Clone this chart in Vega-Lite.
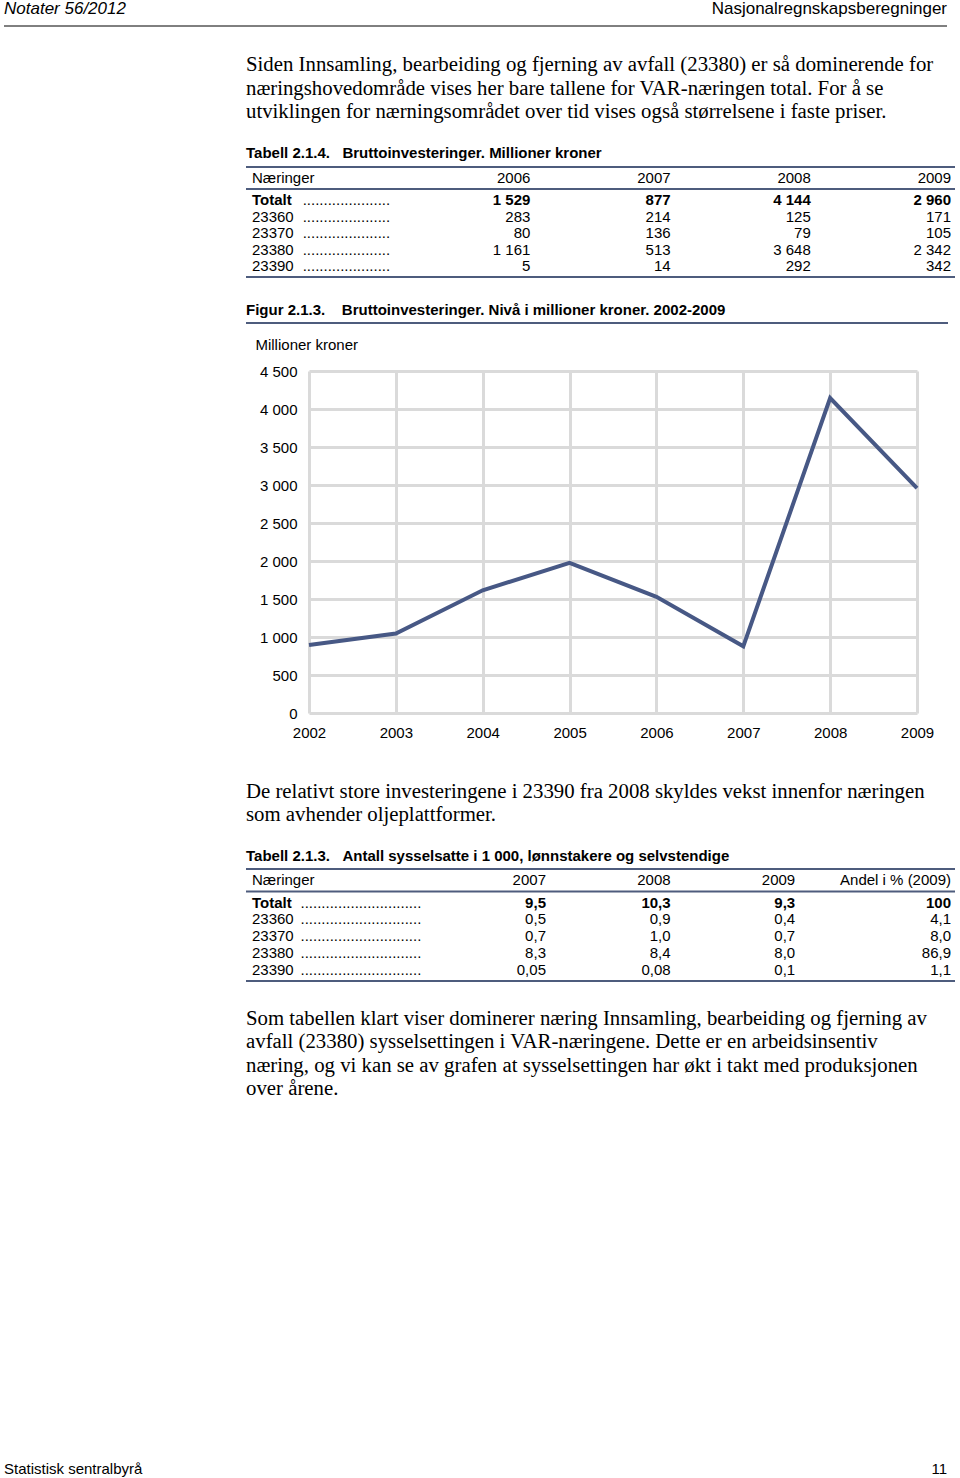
{
  "$schema": "https://vega.github.io/schema/vega-lite/v6.json",
  "background": "white",
  "padding": {"left": 3, "top": 0, "right": 0, "bottom": 0},
  "spacing": 0,
  "config": {
    "view": {"stroke": null},
    "font": "Liberation Sans",
    "text": {"font": "Liberation Sans", "fontSize": 15, "color": "black"}
  },
  "vconcat": [
    {
      "width": 943,
      "height": 25,
      "layer": [
        {
          "data": {"values": [{"t": "Notater 56/2012"}]},
          "mark": {"type": "text", "align": "left", "baseline": "top", "fontSize": 17, "fontStyle": "italic"},
          "encoding": {
            "text": {"field": "t"},
            "x": {"datum": 0, "type": "quantitative", "scale": {"domain": [0, 1]}, "axis": null},
            "y": {"datum": 1, "type": "quantitative", "scale": {"domain": [0, 1]}, "axis": null}
          }
        },
        {
          "data": {"values": [{"t": "Nasjonalregnskapsberegninger"}]},
          "mark": {"type": "text", "align": "right", "baseline": "top", "fontSize": 17},
          "encoding": {
            "text": {"field": "t"},
            "x": {"datum": 1, "type": "quantitative", "scale": {"domain": [0, 1]}, "axis": null},
            "y": {"datum": 1, "type": "quantitative", "scale": {"domain": [0, 1]}, "axis": null}
          }
        },
        {
          "data": {"values": [{}]},
          "mark": {"type": "rule", "color": "black", "strokeWidth": 1},
          "encoding": {"y": {"datum": 0, "type": "quantitative", "scale": {"domain": [0, 1]}, "axis": null}}
        }
      ]
    },
    {"width": 10, "height": 27, "data": {"values": []}, "mark": "text"},
    {
      "spacing": 0,
      "hconcat": [
        {"width": 241, "height": 1, "data": {"values": []}, "mark": "text"},
        {
          "spacing": 0,
          "vconcat": [
            {
              "width": 709,
              "height": 110,
              "title": {
                "text": [
                  "Siden Innsamling, bearbeiding og fjerning av avfall (23380) er så dominerende for",
                  "næringshovedområde vises her bare tallene for VAR-næringen total. For å se",
                  "utviklingen for nærningsområdet over tid vises også størrelsene i faste priser."
                ],
                "subtitle": "Tabell 2.1.4.\u00a0\u00a0\u00a0Bruttoinvesteringer. Millioner kroner",
                "anchor": "start", "frame": "group",
                "font": "Liberation Serif", "fontSize": 20.8, "fontWeight": "normal", "color": "black", "lineHeight": 23.5,
                "subtitleFont": "Liberation Sans", "subtitleFontSize": 15, "subtitleFontWeight": "bold", "subtitleColor": "black",
                "subtitlePadding": 23, "offset": 4
              },
              "data": {"values": [
                {"row": "hdr", "col": "lab", "v": "Næringer"},
                {"row": "hdr", "col": "2006", "v": "2006"},
                {"row": "hdr", "col": "2007", "v": "2007"},
                {"row": "hdr", "col": "2008", "v": "2008"},
                {"row": "hdr", "col": "2009", "v": "2009"},
                {"row": "Totalt", "col": "lab", "v": "Totalt"},
                {"row": "Totalt", "col": "2006", "v": "1 529"},
                {"row": "Totalt", "col": "2007", "v": "877"},
                {"row": "Totalt", "col": "2008", "v": "4 144"},
                {"row": "Totalt", "col": "2009", "v": "2 960"},
                {"row": "23360", "col": "lab", "v": "23360"},
                {"row": "23360", "col": "2006", "v": "283"},
                {"row": "23360", "col": "2007", "v": "214"},
                {"row": "23360", "col": "2008", "v": "125"},
                {"row": "23360", "col": "2009", "v": "171"},
                {"row": "23370", "col": "lab", "v": "23370"},
                {"row": "23370", "col": "2006", "v": "80"},
                {"row": "23370", "col": "2007", "v": "136"},
                {"row": "23370", "col": "2008", "v": "79"},
                {"row": "23370", "col": "2009", "v": "105"},
                {"row": "23380", "col": "lab", "v": "23380"},
                {"row": "23380", "col": "2006", "v": "1 161"},
                {"row": "23380", "col": "2007", "v": "513"},
                {"row": "23380", "col": "2008", "v": "3 648"},
                {"row": "23380", "col": "2009", "v": "2 342"},
                {"row": "23390", "col": "lab", "v": "23390"},
                {"row": "23390", "col": "2006", "v": "5"},
                {"row": "23390", "col": "2007", "v": "14"},
                {"row": "23390", "col": "2008", "v": "292"},
                {"row": "23390", "col": "2009", "v": "342"}
              ]},
              "encoding": {
                "y": {"field": "row", "type": "nominal", "axis": null,
                  "scale": {"type": "point", "padding": 0, "domain": ["top", "y1", "hdr", "y3", "hrule", "y5", "Totalt", "y7", "y8", "23360", "y10", "y11", "23370", "y13", "y14", "23380", "y16", "y17", "23390", "y19", "bot"]}}
              },
              "layer": [
                {
                  "data": {"values": [{"row": "top"}, {"row": "hrule"}, {"row": "bot"}]},
                  "mark": {"type": "rule", "color": "#4e5c7d", "strokeWidth": 2}
                },
                {
                  "transform": [{"filter": "datum.col === 'lab'"}],
                  "mark": {"type": "text", "align": "left", "dx": 2, "fontWeight": {"expr": "datum.row === 'Totalt' ? 'bold' : 'normal'"}},
                  "encoding": {
                    "x": {"field": "col", "type": "nominal", "axis": null, "scale": {"type": "point", "padding": 0.0285, "domain": ["lab", "dots", "2006", "2007", "2008", "2009"]}},
                    "text": {"field": "v"}
                  }
                },
                {
                  "transform": [{"filter": "datum.col !== 'lab'"}],
                  "mark": {"type": "text", "align": "right", "fontWeight": {"expr": "datum.row === 'Totalt' ? 'bold' : 'normal'"}},
                  "encoding": {
                    "x": {"field": "col", "type": "nominal", "axis": null, "scale": {"type": "point", "padding": 0.0285, "domain": ["lab", "dots", "2006", "2007", "2008", "2009"]}},
                    "text": {"field": "v"}
                  }
                },
                {
                  "transform": [{"filter": "datum.col === 'lab' && datum.row !== 'hdr'"}],
                  "mark": {"type": "text", "align": "right", "text": "....................."},
                  "encoding": {
                    "x": {"datum": "dots", "type": "nominal", "axis": null, "scale": {"type": "point", "padding": 0.0285, "domain": ["lab", "dots", "2006", "2007", "2008", "2009"]}}
                  }
                }
              ]
            },
            {"width": 10, "height": 25, "data": {"values": []}, "mark": "text"},
            {
              "width": 702,
              "height": 1,
              "title": {
                "text": "Figur 2.1.3.\u00a0\u00a0\u00a0\u00a0Bruttoinvesteringer. Nivå i millioner kroner. 2002-2009",
                "anchor": "start", "frame": "group",
                "font": "Liberation Sans", "fontSize": 15, "fontWeight": "bold", "color": "black", "offset": 4
              },
              "data": {"values": [{}]},
              "mark": {"type": "rule", "color": "#4e5c7d", "strokeWidth": 2},
              "encoding": {"y": {"datum": 0, "type": "quantitative", "scale": {"domain": [0, 1]}, "axis": null}}
            }
          ]
        }
      ]
    },
    {"width": 10, "height": 14, "data": {"values": []}, "mark": "text"},
    {
      "spacing": 0,
      "hconcat": [
        {"width": 251, "height": 1, "data": {"values": []}, "mark": "text"},
        {
          "width": 608,
          "height": 342,
          "title": {
            "text": "Millioner kroner", "anchor": "start", "frame": "bounds",
            "font": "Liberation Sans", "fontSize": 15, "fontWeight": "normal", "color": "black", "offset": 11, "dx": -4
          },
          "data": {"values": [
            {"year": "2002", "value": 895},
            {"year": "2003", "value": 1045},
            {"year": "2004", "value": 1615},
            {"year": "2005", "value": 1975},
            {"year": "2006", "value": 1529},
            {"year": "2007", "value": 877},
            {"year": "2008", "value": 4144},
            {"year": "2009", "value": 2960}
          ]},
          "mark": {"type": "line", "color": "#475885", "strokeWidth": 4, "strokeJoin": "miter"},
          "encoding": {
            "x": {"field": "year", "type": "ordinal", "scale": {"type": "point", "padding": 0},
              "axis": {"title": null, "labelAngle": 0, "labelFont": "Liberation Sans", "labelFontSize": 15, "labelColor": "black",
                "labelPadding": 12, "ticks": false, "domain": false, "grid": true, "gridColor": "#dadada", "gridWidth": 3}},
            "y": {"field": "value", "type": "quantitative", "scale": {"domain": [0, 4500], "nice": false},
              "axis": {"title": null, "values": [0, 500, 1000, 1500, 2000, 2500, 3000, 3500, 4000, 4500],
                "labelExpr": "replace(format(datum.value, ','), ',', ' ')",
                "labelFont": "Liberation Sans", "labelFontSize": 15, "labelColor": "black", "labelPadding": 12,
                "ticks": false, "domain": false, "grid": true, "gridColor": "#dadada", "gridWidth": 3}}
          }
        }
      ]
    },
    {"width": 10, "height": 40, "data": {"values": []}, "mark": "text"},
    {
      "spacing": 0,
      "hconcat": [
        {"width": 241, "height": 1, "data": {"values": []}, "mark": "text"},
        {
          "spacing": 0,
          "vconcat": [
            {
              "width": 709,
              "height": 112,
              "title": {
                "text": [
                  "De relativt store investeringene i 23390 fra 2008 skyldes vekst innenfor næringen",
                  "som avhender oljeplattformer."
                ],
                "subtitle": "Tabell 2.1.3.\u00a0\u00a0\u00a0Antall sysselsatte i 1 000, lønnstakere og selvstendige",
                "anchor": "start", "frame": "group",
                "font": "Liberation Serif", "fontSize": 20.8, "fontWeight": "normal", "color": "black", "lineHeight": 23.5,
                "subtitleFont": "Liberation Sans", "subtitleFontSize": 15, "subtitleFontWeight": "bold", "subtitleColor": "black",
                "subtitlePadding": 23, "offset": 3
              },
              "data": {"values": [
                {"row": "hdr", "col": "lab", "v": "Næringer"},
                {"row": "hdr", "col": "2007", "v": "2007"},
                {"row": "hdr", "col": "2008", "v": "2008"},
                {"row": "hdr", "col": "2009", "v": "2009"},
                {"row": "hdr", "col": "andel", "v": "Andel i % (2009)"},
                {"row": "Totalt", "col": "lab", "v": "Totalt"},
                {"row": "Totalt", "col": "2007", "v": "9,5"},
                {"row": "Totalt", "col": "2008", "v": "10,3"},
                {"row": "Totalt", "col": "2009", "v": "9,3"},
                {"row": "Totalt", "col": "andel", "v": "100"},
                {"row": "23360", "col": "lab", "v": "23360"},
                {"row": "23360", "col": "2007", "v": "0,5"},
                {"row": "23360", "col": "2008", "v": "0,9"},
                {"row": "23360", "col": "2009", "v": "0,4"},
                {"row": "23360", "col": "andel", "v": "4,1"},
                {"row": "23370", "col": "lab", "v": "23370"},
                {"row": "23370", "col": "2007", "v": "0,7"},
                {"row": "23370", "col": "2008", "v": "1,0"},
                {"row": "23370", "col": "2009", "v": "0,7"},
                {"row": "23370", "col": "andel", "v": "8,0"},
                {"row": "23380", "col": "lab", "v": "23380"},
                {"row": "23380", "col": "2007", "v": "8,3"},
                {"row": "23380", "col": "2008", "v": "8,4"},
                {"row": "23380", "col": "2009", "v": "8,0"},
                {"row": "23380", "col": "andel", "v": "86,9"},
                {"row": "23390", "col": "lab", "v": "23390"},
                {"row": "23390", "col": "2007", "v": "0,05"},
                {"row": "23390", "col": "2008", "v": "0,08"},
                {"row": "23390", "col": "2009", "v": "0,1"},
                {"row": "23390", "col": "andel", "v": "1,1"}
              ]},
              "encoding": {
                "y": {"field": "row", "type": "nominal", "axis": null,
                  "scale": {"type": "point", "padding": 0, "domain": ["top", "y1", "hdr", "y3", "hrule", "y5", "Totalt", "y7", "y8", "23360", "y10", "y11", "23370", "y13", "y14", "23380", "y16", "y17", "23390", "y19", "bot"]}}
              },
              "layer": [
                {
                  "data": {"values": [{"row": "top"}, {"row": "hrule"}, {"row": "bot"}]},
                  "mark": {"type": "rule", "color": "#4e5c7d", "strokeWidth": 2}
                },
                {
                  "transform": [{"filter": "datum.col === 'lab'"}],
                  "mark": {"type": "text", "align": "left", "dx": 2, "fontWeight": {"expr": "datum.row === 'Totalt' ? 'bold' : 'normal'"}},
                  "encoding": {
                    "x": {"field": "col", "type": "nominal", "axis": null, "scale": {"type": "point", "padding": 0.257, "domain": ["lab", "a1", "a2", "a3", "a4", "a5", "a6", "a7", "a8", "a9", "a10", "dots", "a12", "a13", "a14", "a15", "a16", "a17", "a18", "2007", "a20", "a21", "a22", "a23", "a24", "a25", "a26", "2008", "a28", "a29", "a30", "a31", "a32", "a33", "a34", "2009", "a36", "a37", "a38", "a39", "a40", "a41", "a42", "a43", "a44", "andel"]}},
                    "text": {"field": "v"}
                  }
                },
                {
                  "transform": [{"filter": "datum.col !== 'lab'"}],
                  "mark": {"type": "text", "align": "right", "fontWeight": {"expr": "datum.row === 'Totalt' ? 'bold' : 'normal'"}},
                  "encoding": {
                    "x": {"field": "col", "type": "nominal", "axis": null, "scale": {"type": "point", "padding": 0.257, "domain": ["lab", "a1", "a2", "a3", "a4", "a5", "a6", "a7", "a8", "a9", "a10", "dots", "a12", "a13", "a14", "a15", "a16", "a17", "a18", "2007", "a20", "a21", "a22", "a23", "a24", "a25", "a26", "2008", "a28", "a29", "a30", "a31", "a32", "a33", "a34", "2009", "a36", "a37", "a38", "a39", "a40", "a41", "a42", "a43", "a44", "andel"]}},
                    "text": {"field": "v"}
                  }
                },
                {
                  "transform": [{"filter": "datum.col === 'lab' && datum.row !== 'hdr'"}],
                  "mark": {"type": "text", "align": "right", "text": "............................."},
                  "encoding": {
                    "x": {"datum": "dots", "type": "nominal", "axis": null, "scale": {"type": "point", "padding": 0.257, "domain": ["lab", "a1", "a2", "a3", "a4", "a5", "a6", "a7", "a8", "a9", "a10", "dots", "a12", "a13", "a14", "a15", "a16", "a17", "a18", "2007", "a20", "a21", "a22", "a23", "a24", "a25", "a26", "2008", "a28", "a29", "a30", "a31", "a32", "a33", "a34", "2009", "a36", "a37", "a38", "a39", "a40", "a41", "a42", "a43", "a44", "andel"]}}
                  }
                }
              ]
            },
            {"width": 10, "height": 25, "data": {"values": []}, "mark": "text"},
            {
              "width": 709,
              "height": 1,
              "title": {
                "text": [
                  "Som tabellen klart viser dominerer næring Innsamling, bearbeiding og fjerning av",
                  "avfall (23380) sysselsettingen i VAR-næringene. Dette er en arbeidsinsentiv",
                  "næring, og vi kan se av grafen at sysselsettingen har økt i takt med produksjonen",
                  "over årene."
                ],
                "anchor": "start", "frame": "group",
                "font": "Liberation Serif", "fontSize": 20.8, "fontWeight": "normal", "color": "black", "lineHeight": 23.5, "offset": 0
              },
              "data": {"values": []},
              "mark": "text"
            }
          ]
        }
      ]
    },
    {"width": 10, "height": 355, "data": {"values": []}, "mark": "text"},
    {
      "width": 943,
      "height": 18,
      "layer": [
        {
          "data": {"values": [{"t": "Statistisk sentralbyrå"}]},
          "mark": {"type": "text", "align": "left", "baseline": "alphabetic", "fontSize": 15},
          "encoding": {
            "text": {"field": "t"},
            "x": {"datum": 0, "type": "quantitative", "scale": {"domain": [0, 1]}, "axis": null},
            "y": {"datum": 0, "type": "quantitative", "scale": {"domain": [0, 1]}, "axis": null}
          }
        },
        {
          "data": {"values": [{"t": "11"}]},
          "mark": {"type": "text", "align": "right", "baseline": "alphabetic", "fontSize": 15},
          "encoding": {
            "text": {"field": "t"},
            "x": {"datum": 1, "type": "quantitative", "scale": {"domain": [0, 1]}, "axis": null},
            "y": {"datum": 0, "type": "quantitative", "scale": {"domain": [0, 1]}, "axis": null}
          }
        }
      ]
    }
  ]
}
